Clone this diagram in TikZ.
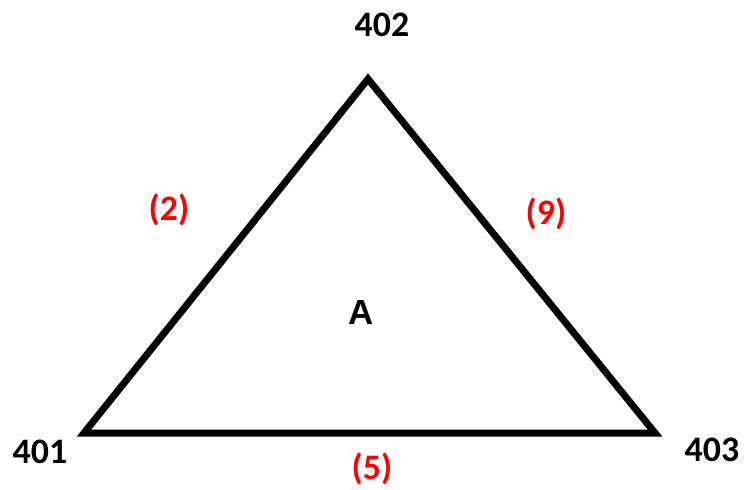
\documentclass[tikz,border=0pt]{standalone}
\usepackage{fontspec}
\setmainfont{Carlito}
\newfontfamily\arialfont{Liberation Sans}
\begin{document}
\begin{tikzpicture}[x=1bp,y=-1bp,
  lbl/.style={font=\fontsize{36}{36}\selectfont\bfseries, inner sep=0pt},
  edgelbl/.style={lbl, text=red},
  tri/.style={line width=7bp, line join=miter}]
\useasboundingbox (0,0) rectangle (746,490);
\coordinate (v1) at (84,433);
\coordinate (v2) at (368,79);
\coordinate (v3) at (655,433);
\draw[tri] (v1) -- (v2) -- (v3) -- cycle;
\node[lbl] (n402) at (382,25) {402};
\node[lbl] (n401) at (40,452) {401};
\node[lbl] (n403) at (712,450) {403};
\node[edgelbl] (e2) at (169,210) {(2)};
\node[edgelbl] (e9) at (546,214) {(9)};
\node[edgelbl] (e5) at (372,469) {(5)};
\node[inner sep=0pt, font=\arialfont\fontsize{35}{35}\selectfont\bfseries] (A) at (361,313) {A};
\end{tikzpicture}
\end{document}
